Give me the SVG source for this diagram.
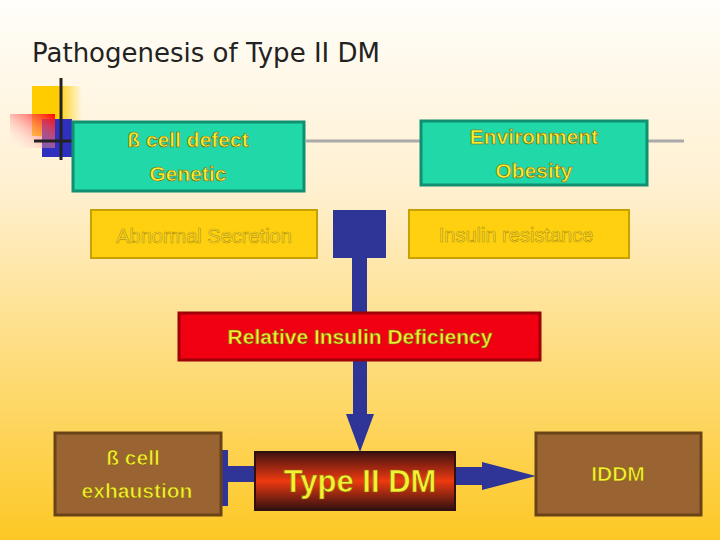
<svg xmlns="http://www.w3.org/2000/svg" width="720" height="540" viewBox="0 0 720 540">
<defs>
<linearGradient id="bg" x1="0" y1="0" x2="0" y2="1"><stop offset="0" stop-color="#fffefa"/><stop offset="0.35" stop-color="#fff0d0"/><stop offset="1" stop-color="#fdc825"/></linearGradient>
<linearGradient id="dm" x1="0" y1="0" x2="0" y2="1"><stop offset="0" stop-color="#401010"/><stop offset="0.5" stop-color="#ee3a10"/><stop offset="1" stop-color="#301010"/></linearGradient>
<linearGradient id="redsq" x1="1" y1="0" x2="0" y2="1"><stop offset="0" stop-color="#f00"/><stop offset="1" stop-color="#fff" stop-opacity="0"/></linearGradient>
<linearGradient id="yelsq" x1="0" y1="0" x2="1" y2="0"><stop offset="0.5" stop-color="#fc0"/><stop offset="1" stop-color="#fc0" stop-opacity="0"/></linearGradient>
</defs>
<style>
.t{font-family:"Liberation Sans",Arial,sans-serif;font-weight:bold;fill:#f5f030;text-anchor:middle;stroke:#806010;stroke-width:0.6}
.g{fill:#20d8a8;stroke:#109070;stroke-width:3}
.y{fill:#ffd010;stroke:#c8a000;stroke-width:2}
.ty{font-family:"Liberation Sans",Arial,sans-serif;fill:#ffe040;stroke:#c09a00;stroke-width:0.7;text-anchor:middle;font-size:20px}
.br{fill:#9a6432;stroke:#6a4218;stroke-width:3}
.b{fill:#2e3596}
</style>
<rect width="720" height="540" fill="url(#bg)"/>
<text x="32" y="62" font-family="Tahoma,'DejaVu Sans',sans-serif" font-size="26" fill="#222">Pathogenesis of Type II DM</text>
<g id="decor">
<rect x="32" y="86" width="50" height="50" fill="url(#yelsq)"/>
<rect x="42" y="119" width="30" height="38" fill="#3030c0"/>
<rect x="10" y="114" width="45" height="34" fill="url(#redsq)"/>
<line x1="61" y1="78" x2="61" y2="160" stroke="#222" stroke-width="3"/>
<line x1="34" y1="141" x2="100" y2="141" stroke="#222" stroke-width="3"/>
<line x1="306" y1="141" x2="684" y2="141" stroke="#aaa" stroke-width="3"/>
</g>
<g id="connectors">
<rect class="b" x="333" y="210" width="53" height="48"/>
<rect class="b" x="352" y="258" width="15" height="55"/>
<rect class="b" x="353" y="360" width="14" height="55"/>
<polygon class="b" points="346,414 374,414 360,452"/>
<rect class="b" x="222" y="450" width="6" height="56"/>
<rect class="b" x="222" y="466" width="35" height="16"/>
<rect class="b" x="454" y="467" width="30" height="18"/>
<polygon class="b" points="482,462 536,476 482,490"/>
</g>
<g id="n1"><rect class="g" x="73" y="122" width="231" height="69"/><text class="t" x="188" y="147" font-size="21">ß cell defect</text><text class="t" x="188" y="181" font-size="21">Genetic</text></g>
<g id="n2"><rect class="g" x="421" y="121" width="226" height="64"/><text class="t" x="534" y="144" font-size="21">Environment</text><text class="t" x="534" y="178" font-size="21">Obesity</text></g>
<g id="n3"><rect class="y" x="91" y="210" width="226" height="48"/><text class="ty" x="204" y="243">Abnormal Secretion</text></g>
<g id="n4"><rect class="y" x="409" y="210" width="220" height="48"/><text class="ty" x="516" y="242">Insulin resistance</text></g>
<g id="n5"><rect x="179" y="313" width="361" height="47" fill="#f00010" stroke="#a00008" stroke-width="3"/><text class="t" x="360" y="344" font-size="21">Relative Insulin Deficiency</text></g>
<g id="n6"><rect class="br" x="55" y="433" width="166" height="82"/><text class="t" x="133" y="465" font-size="21">ß cell</text><text class="t" x="137" y="498" font-size="21">exhaustion</text></g>
<g id="n7"><rect x="255" y="452" width="200" height="58" fill="url(#dm)" stroke="#301010" stroke-width="2"/><text class="t" x="360" y="492" font-size="31">Type II DM</text></g>
<g id="n8"><rect class="br" x="536" y="433" width="165" height="82"/><text class="t" x="618" y="481" font-size="21">IDDM</text></g>
</svg>
